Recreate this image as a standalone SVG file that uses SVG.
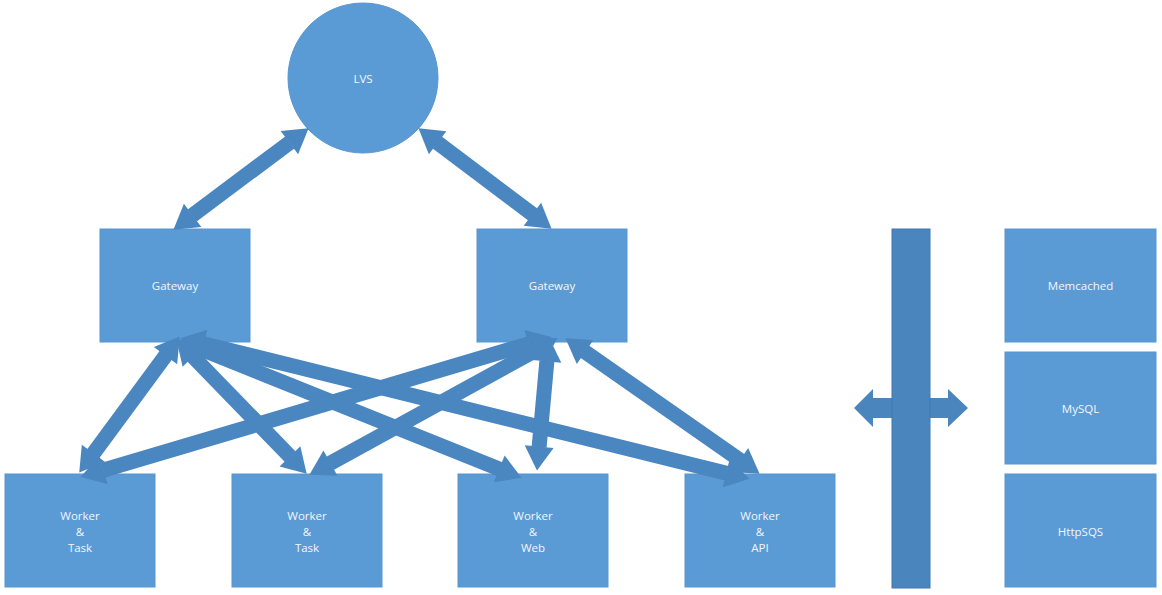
<svg xmlns="http://www.w3.org/2000/svg" width="1162" height="595" viewBox="0 0 1162 595">
<defs>
<style>
.box{fill:#5B9BD5;stroke:#5796cf;stroke-width:1}
.lbl{font-family:"Open Sans","Liberation Sans",sans-serif;font-size:11.5px;fill:#f2f6fb;text-anchor:middle;dominant-baseline:central}
.conn{stroke:#4A86C0;stroke-width:15;fill:none;marker-start:url(#head);marker-end:url(#head)}
.bus{fill:#4A85BD;stroke:#4179ad;stroke-width:1}
</style>
<marker id="head" markerUnits="userSpaceOnUse" markerWidth="24" markerHeight="29" viewBox="0 0 24 29" refX="0.5" refY="14.5" orient="auto-start-reverse" overflow="visible">
<path d="M0,0 L24,14.5 L0,29 Z" fill="#4A86C0"/>
</marker>
</defs>
<rect width="1162" height="595" fill="#ffffff"/>

<g id="lvs">
<circle class="box" cx="363" cy="78" r="75"/>
<text class="lbl" x="363" y="78">LVS</text>
</g>
<g id="gateway1">
<rect class="box" x="100" y="229" width="150" height="113"/>
<text class="lbl" x="175" y="285">Gateway</text>
</g>
<g id="gateway2">
<rect class="box" x="477" y="229" width="150" height="113"/>
<text class="lbl" x="552" y="285">Gateway</text>
</g>
<g id="worker1">
<rect class="box" x="5" y="474" width="150" height="113"/>
<text class="lbl" x="80" y="515">Worker</text>
<text class="lbl" x="80" y="531">&amp;</text>
<text class="lbl" x="80" y="547">Task</text>
</g>
<g id="worker2">
<rect class="box" x="232" y="474" width="150" height="113"/>
<text class="lbl" x="307" y="515">Worker</text>
<text class="lbl" x="307" y="531">&amp;</text>
<text class="lbl" x="307" y="547">Task</text>
</g>
<g id="worker3">
<rect class="box" x="458" y="474" width="150" height="113"/>
<text class="lbl" x="533" y="515">Worker</text>
<text class="lbl" x="533" y="531">&amp;</text>
<text class="lbl" x="533" y="547">Web</text>
</g>
<g id="worker4">
<rect class="box" x="685" y="474" width="150" height="113"/>
<text class="lbl" x="760" y="515">Worker</text>
<text class="lbl" x="760" y="531">&amp;</text>
<text class="lbl" x="760" y="547">API</text>
</g>
<g id="memcached">
<rect class="box" x="1005" y="229" width="151" height="113"/>
<text class="lbl" x="1080.5" y="285">Memcached</text>
</g>
<g id="mysql">
<rect class="box" x="1005" y="352" width="151" height="112"/>
<text class="lbl" x="1080.5" y="408">MySQL</text>
</g>
<g id="httpsqs">
<rect class="box" x="1005" y="474" width="151" height="113"/>
<text class="lbl" x="1080.5" y="531">HttpSQS</text>
</g>

<g id="connectors">
<line class="conn" x1="289.8" y1="142.4" x2="192.2" y2="215.6"/>
<line class="conn" x1="437.2" y1="142.4" x2="532.8" y2="214.6"/>
<line class="conn" x1="165.8" y1="355.3" x2="93.2" y2="453.7"/>
<line class="conn" x1="192.7" y1="356.2" x2="290.3" y2="456.8"/>
<line class="conn" x1="200.3" y1="348.9" x2="499.7" y2="469.1"/>
<line class="conn" x1="203.3" y1="343.8" x2="726.7" y2="473.2"/>
<line class="conn" x1="529.0" y1="343.8" x2="103.0" y2="470.2"/>
<line class="conn" x1="537.0" y1="349.6" x2="330.0" y2="463.4"/>
<line class="conn" x1="546.9" y1="360.9" x2="539.1" y2="447.1"/>
<line class="conn" x1="584.7" y1="351.7" x2="740.3" y2="460.3"/>
<polygon points="854,408 873,389 873,398 948,398 948,389 968,408 948,427 948,418 873,418 873,427" fill="#4A85BD"/>
</g>

<g id="bus">
<rect class="bus" x="892" y="229" width="38" height="359"/>
</g>
</svg>
